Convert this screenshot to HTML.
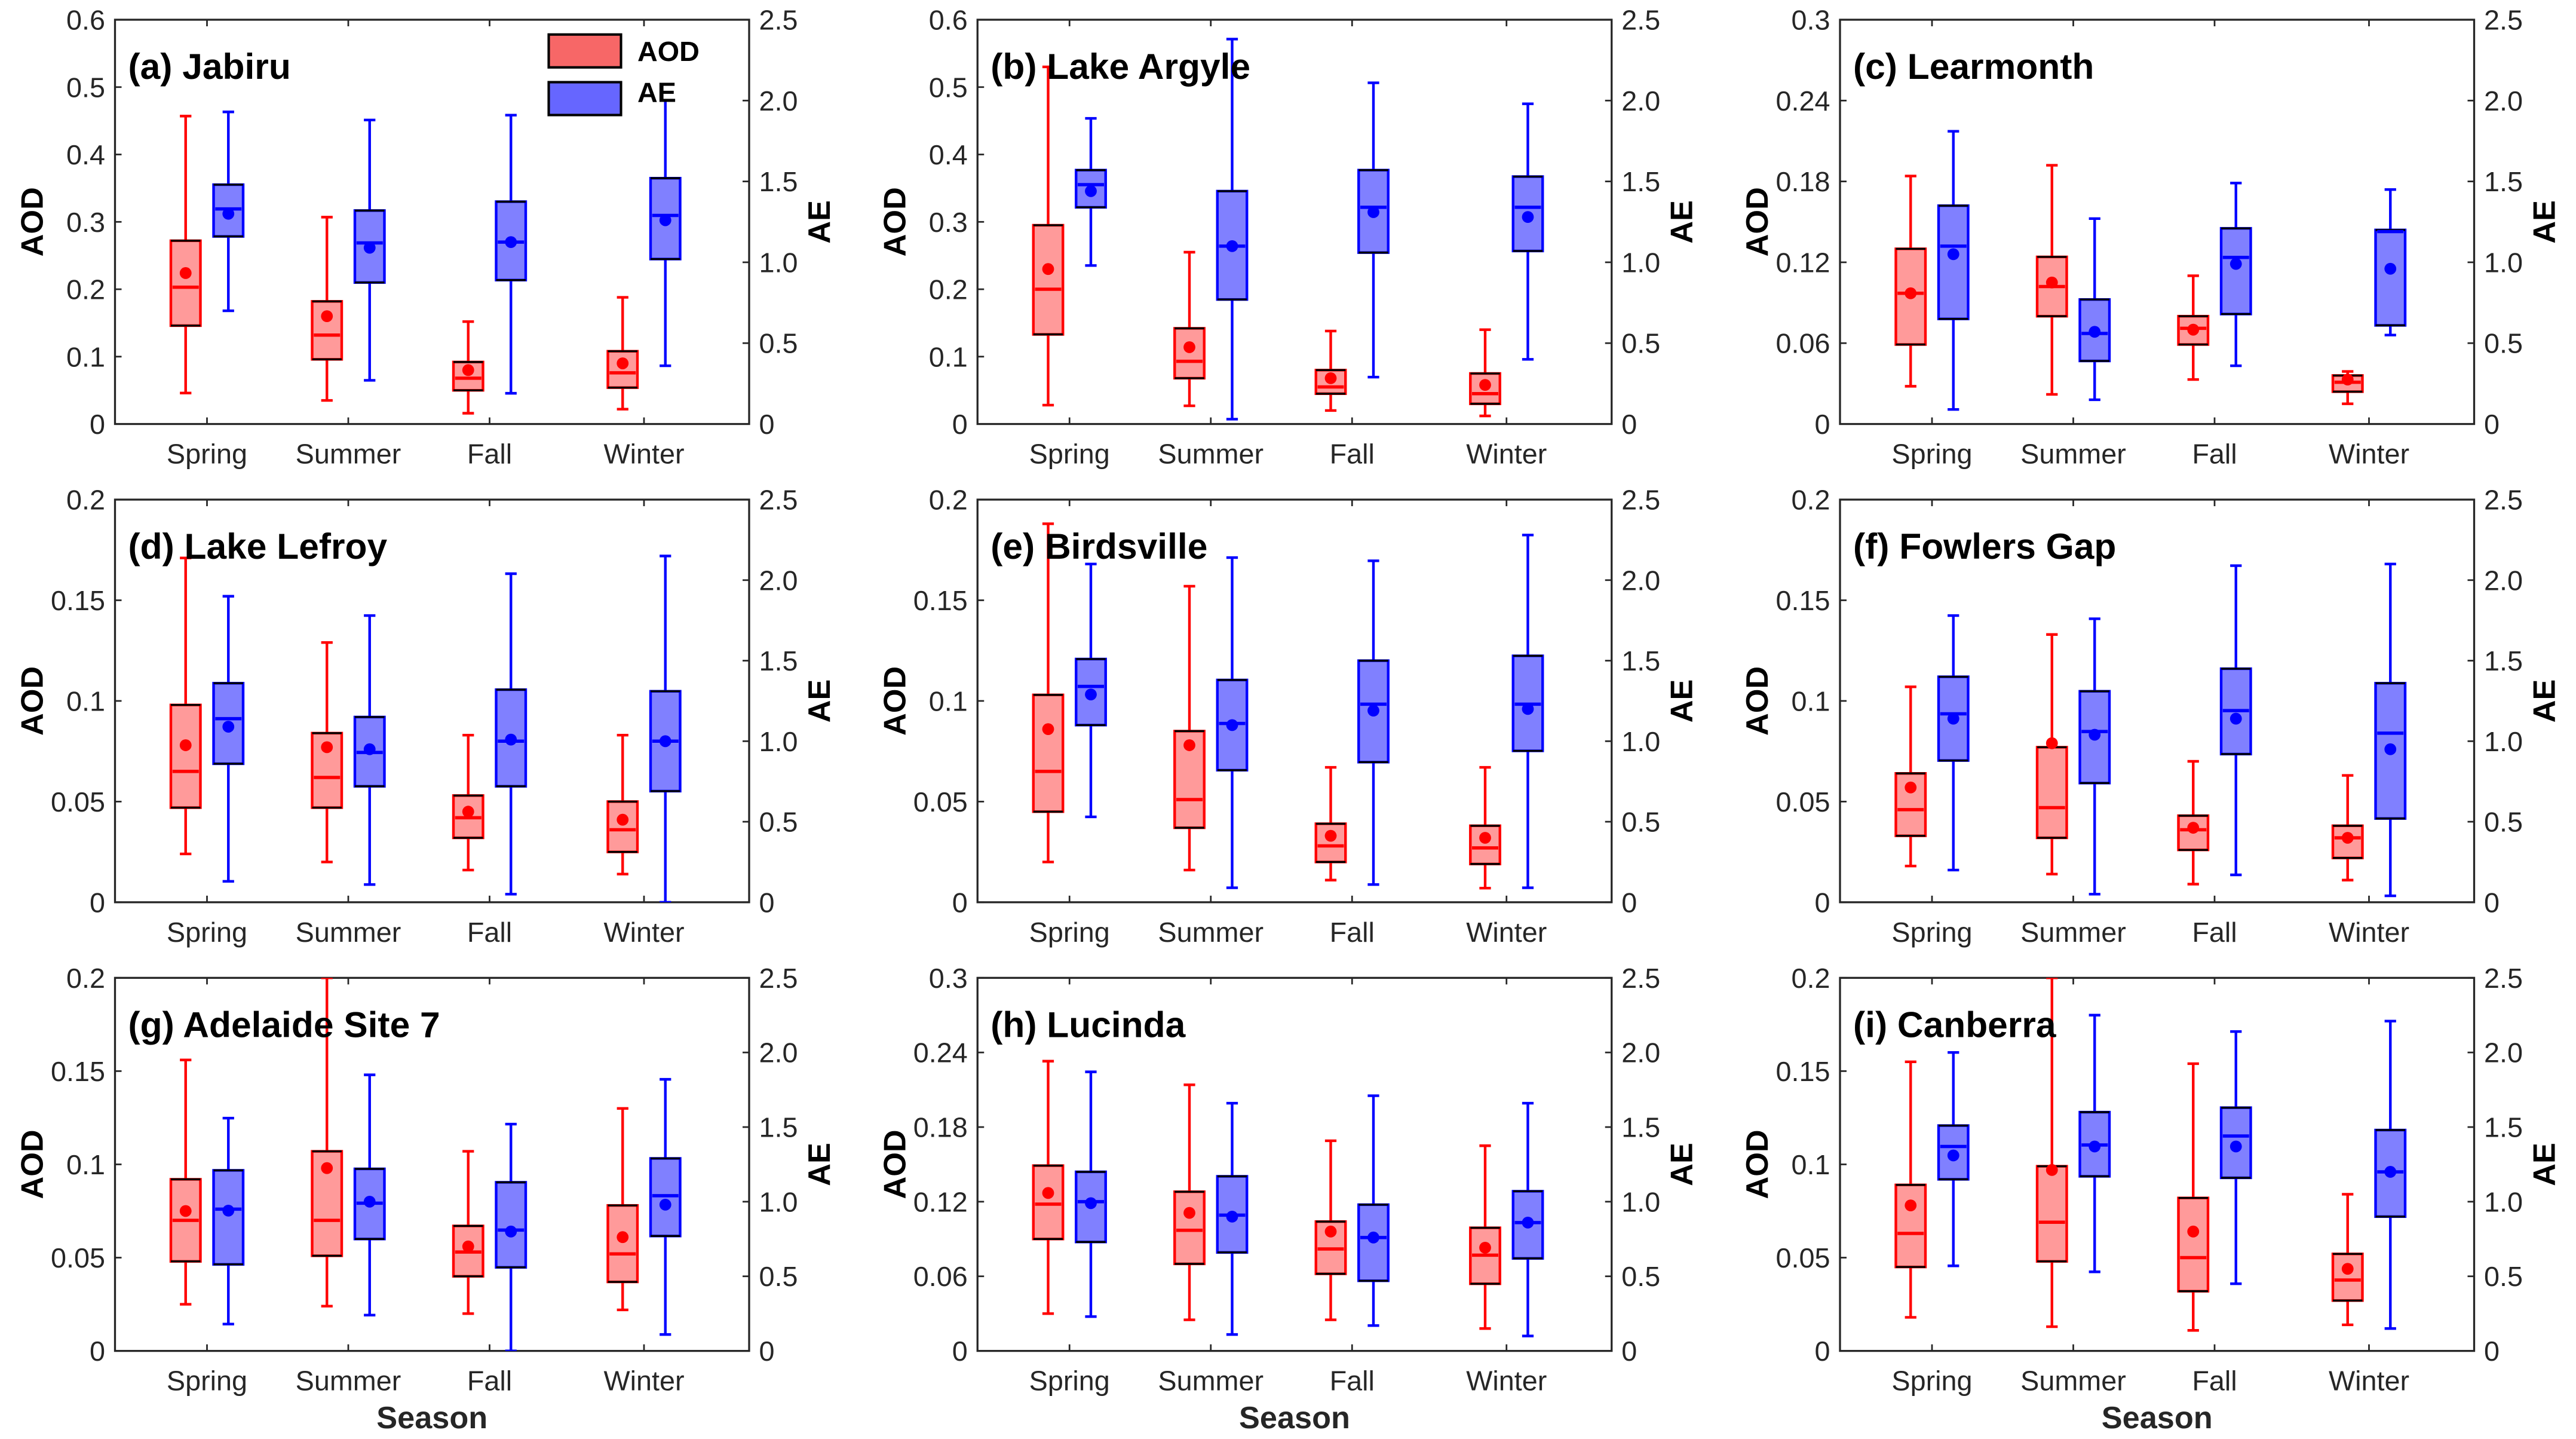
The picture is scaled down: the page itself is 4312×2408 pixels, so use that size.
<!DOCTYPE html>
<html><head><meta charset="utf-8">
<style>
html,body{margin:0;padding:0;background:#fff;}
svg{display:block;font-family:"Liberation Sans",Arial,sans-serif;}
</style></head>
<body>
<svg id="chart" width="4312" height="2408" viewBox="0 0 1568 875.6" preserveAspectRatio="none" xmlns="http://www.w3.org/2000/svg"></svg>
<script>
const seasons = ["Spring","Summer","Fall","Winter"];
const panelTitles = ["(a) Jabiru","(b) Lake Argyle","(c) Learmonth","(d) Lake Lefroy","(e) Birdsville","(f) Fowlers Gap","(g) Adelaide Site 7","(h) Lucinda","(i) Canberra"];
const aodMax = [0.6,0.6,0.3,0.2,0.2,0.2,0.2,0.3,0.2];
const aodTicks06 = ["0","0.1","0.2","0.3","0.4","0.5","0.6"];
const aodTicks03 = ["0","0.06","0.12","0.18","0.24","0.3"];
const aodTicks02 = ["0","0.05","0.1","0.15","0.2"];
const aeTicks = ["0","0.5","1.0","1.5","2.0","2.5"];
const aeMax = 2.5;
// each entry: [low whisker, q1, median, q3, high whisker, mean]
const aodData = [
 [[0.046,0.146,0.203,0.272,0.457,0.224],[0.035,0.096,0.132,0.182,0.307,0.16],[0.016,0.05,0.068,0.092,0.152,0.08],[0.022,0.054,0.076,0.108,0.188,0.09]],
 [[0.028,0.133,0.2,0.295,0.53,0.23],[0.027,0.068,0.093,0.142,0.255,0.114],[0.02,0.045,0.055,0.08,0.138,0.068],[0.012,0.03,0.045,0.075,0.14,0.058]],
 [[0.028,0.059,0.097,0.13,0.184,0.097],[0.022,0.08,0.102,0.124,0.192,0.105],[0.033,0.059,0.071,0.08,0.11,0.07],[0.015,0.024,0.031,0.036,0.039,0.033]],
 [[0.024,0.047,0.065,0.098,0.171,0.078],[0.02,0.047,0.062,0.084,0.129,0.077],[0.016,0.032,0.042,0.053,0.083,0.045],[0.014,0.025,0.036,0.05,0.083,0.041]],
 [[0.02,0.045,0.065,0.103,0.188,0.086],[0.016,0.037,0.051,0.085,0.157,0.078],[0.011,0.02,0.028,0.039,0.067,0.033],[0.007,0.019,0.027,0.038,0.067,0.032]],
 [[0.018,0.033,0.046,0.064,0.107,0.057],[0.014,0.032,0.047,0.077,0.133,0.079],[0.009,0.026,0.036,0.043,0.07,0.037],[0.011,0.022,0.032,0.038,0.063,0.032]],
 [[0.025,0.048,0.07,0.092,0.156,0.075],[0.024,0.051,0.07,0.107,0.2,0.098],[0.02,0.04,0.053,0.067,0.107,0.056],[0.022,0.037,0.052,0.078,0.13,0.061]],
 [[0.03,0.09,0.118,0.149,0.233,0.127],[0.025,0.07,0.097,0.128,0.214,0.111],[0.025,0.062,0.082,0.104,0.169,0.096],[0.018,0.054,0.077,0.099,0.165,0.083]],
 [[0.018,0.045,0.063,0.089,0.155,0.078],[0.013,0.048,0.069,0.099,0.2,0.097],[0.011,0.032,0.05,0.082,0.154,0.064],[0.014,0.027,0.038,0.052,0.084,0.044]]
];
const aeData = [
 [[0.70,1.16,1.33,1.48,1.93,1.30],[0.27,0.875,1.12,1.32,1.88,1.09],[0.19,0.89,1.125,1.375,1.91,1.125],[0.36,1.02,1.29,1.52,2.0,1.26]],
 [[0.98,1.34,1.48,1.57,1.89,1.44],[0.03,0.77,1.10,1.44,2.38,1.10],[0.29,1.06,1.34,1.57,2.11,1.31],[0.40,1.07,1.34,1.53,1.98,1.28]],
 [[0.09,0.65,1.10,1.35,1.81,1.05],[0.15,0.39,0.56,0.77,1.27,0.57],[0.36,0.68,1.03,1.21,1.49,0.99],[0.55,0.61,1.19,1.20,1.45,0.96]],
 [[0.13,0.86,1.14,1.36,1.90,1.09],[0.11,0.72,0.93,1.15,1.78,0.95],[0.05,0.72,1.00,1.32,2.04,1.01],[0.0,0.69,1.00,1.31,2.15,1.00]],
 [[0.53,1.10,1.34,1.51,2.10,1.29],[0.09,0.82,1.11,1.38,2.14,1.10],[0.11,0.87,1.23,1.50,2.12,1.19],[0.09,0.94,1.23,1.53,2.28,1.20]],
 [[0.20,0.88,1.17,1.40,1.78,1.14],[0.05,0.74,1.06,1.31,1.76,1.04],[0.17,0.92,1.19,1.45,2.09,1.14],[0.04,0.52,1.05,1.36,2.10,0.95]],
 [[0.18,0.58,0.95,1.21,1.56,0.94],[0.24,0.75,0.99,1.22,1.85,1.00],[0.0,0.56,0.81,1.13,1.52,0.80],[0.11,0.77,1.04,1.29,1.82,0.98]],
 [[0.23,0.73,1.00,1.20,1.87,0.99],[0.11,0.66,0.91,1.17,1.66,0.90],[0.17,0.47,0.76,0.98,1.71,0.76],[0.10,0.62,0.86,1.07,1.66,0.86]],
 [[0.57,1.15,1.37,1.51,2.0,1.31],[0.53,1.17,1.38,1.60,2.25,1.37],[0.45,1.16,1.44,1.63,2.14,1.37],[0.15,0.90,1.20,1.48,2.21,1.20]]
];

const NS="http://www.w3.org/2000/svg";
const svg=document.getElementById('chart');
function mk(tag,attrs,parent){const e=document.createElementNS(NS,tag);for(const k in attrs)e.setAttribute(k,attrs[k]);(parent||svg).appendChild(e);return e;}

const rows=[[12,258],[304,549],[595,822]];
const colLeft=[70,595,1120];
const plotW=386;
const catOff=[56,142,228,322];
const bw=18, off=13;

for(let p=0;p<9;p++){
  const r=Math.floor(p/3), c=p%3;
  const L=colLeft[c], R=L+plotW, T=rows[r][0], B=rows[r][1];
  const g=mk('g',{});
  
  
  const yA=v=>B-(v/aodMax[p])*(B-T);
  const yE=v=>B-(v/aeMax)*(B-T);
  const xC=i=>L+catOff[i];
  const clip=mk('clipPath',{id:'clip'+p},g);
  mk('rect',{x:L,y:T,width:plotW,height:B-T},clip);
  const fr=mk('rect',{x:L,y:T,width:plotW,height:B-T,fill:'none',stroke:'#262626','stroke-width':1.2},g);
  
  
  const lt = aodMax[p]===0.6?aodTicks06:(aodMax[p]===0.3?aodTicks03:aodTicks02);
  lt.forEach((t,i)=>{
    const v=aodMax[p]*i/(lt.length-1); const y=yA(v);
    mk('line',{x1:L,x2:L+4,y1:y,y2:y,stroke:'#262626','stroke-width':1},g);
    const tx=mk('text',{x:L-6,y:y+6,'text-anchor':'end','font-size':17,fill:'#262626'},g);
    tx.textContent=t;
    
    
  });
  aeTicks.forEach((t,i)=>{
    const v=aeMax*i/(aeTicks.length-1); const y=yE(v);
    mk('line',{x1:R-4,x2:R,y1:y,y2:y,stroke:'#262626','stroke-width':1},g);
    const tx=mk('text',{x:R+6,y:y+6,'text-anchor':'start','font-size':17,fill:'#262626'},g);
    tx.textContent=t;
    
    
  });
  seasons.forEach((s,i)=>{
    const x=xC(i);
    mk('line',{x1:x,x2:x,y1:B,y2:B-4,stroke:'#262626','stroke-width':1},g);
    mk('line',{x1:x,x2:x,y1:T,y2:T+4,stroke:'#262626','stroke-width':1},g);
    const tx=mk('text',{x:x,y:B+24,'text-anchor':'middle','font-size':17,fill:'#262626'},g);
    tx.textContent=s;
    
    
  });
  const ya=mk('text',{x:0,y:0,transform:`translate(${L-44},${(T+B)/2}) rotate(-90)`,'text-anchor':'middle','font-size':19,'font-weight':'bold',fill:'#000'},g);
  ya.textContent='AOD';
  
  
  const ye=mk('text',{x:0,y:0,transform:`translate(${R+49},${(T+B)/2}) rotate(-90)`,'text-anchor':'middle','font-size':19,'font-weight':'bold',fill:'#000'},g);
  ye.textContent='AE';
  
  
  const bg=mk('g',{'clip-path':`url(#clip${p})`},g);
  function drawBox(d,x,yf,col,fill,name){
    const bx=mk('g',{},bg);
    
    
    mk('line',{x1:x,x2:x,y1:yf(d[0]),y2:yf(d[4]),stroke:col,'stroke-width':1.6},bx);
    mk('line',{x1:x-3.5,x2:x+3.5,y1:yf(d[0]),y2:yf(d[0]),stroke:col,'stroke-width':1.6},bx);
    mk('line',{x1:x-3.5,x2:x+3.5,y1:yf(d[4]),y2:yf(d[4]),stroke:col,'stroke-width':1.6},bx);
    mk('rect',{x:x-bw/2,y:yf(d[3]),width:bw,height:Math.max(0.5,yf(d[1])-yf(d[3])),fill:fill,stroke:col,'stroke-width':1.6},bx);
    mk('line',{x1:x-bw/2,x2:x+bw/2,y1:yf(d[3]),y2:yf(d[3]),stroke:'#000','stroke-width':1.2},bx);
    mk('line',{x1:x-bw/2,x2:x+bw/2,y1:yf(d[1]),y2:yf(d[1]),stroke:'#000','stroke-width':1.2},bx);
    mk('line',{x1:x-bw/2+1,x2:x+bw/2-1,y1:yf(d[2]),y2:yf(d[2]),stroke:col,'stroke-width':2},bx);
    mk('circle',{cx:x,cy:yf(d[5]),r:3.6,fill:col},bx);
  }
  seasons.forEach((s,i)=>{
    drawBox(aodData[p][i],xC(i)-off,yA,'#ff0000','#ff9a9a','aod-box-'+s.toLowerCase());
    drawBox(aeData[p][i],xC(i)+off,yE,'#0000ff','#8080ff','ae-box-'+s.toLowerCase());
  });
  const tt=mk('text',{x:L+8,y:T+36,'font-size':22,'font-weight':'bold',fill:'#000'},g);
  tt.textContent=panelTitles[p];
  
  
  if(r===2){
    const xs=mk('text',{x:L+193,y:869,'text-anchor':'middle','font-size':19,'font-weight':'bold',fill:'#262626'},g);
    xs.textContent='Season';
    
    
  }
}
const lg=mk('g',{});


const le1=mk('g',{},lg);


mk('rect',{x:334,y:21,width:44,height:20,fill:'#f76767',stroke:'#000','stroke-width':1.5},le1);
const t1=mk('text',{x:388,y:37,'font-size':17,'font-weight':'bold'},le1);t1.textContent='AOD';
const le2=mk('g',{},lg);


mk('rect',{x:334,y:50,width:44,height:20,fill:'#6666ff',stroke:'#000','stroke-width':1.5},le2);
const t2=mk('text',{x:388,y:62,'font-size':17,'font-weight':'bold'},le2);t2.textContent='AE';
</script>
</body></html>
